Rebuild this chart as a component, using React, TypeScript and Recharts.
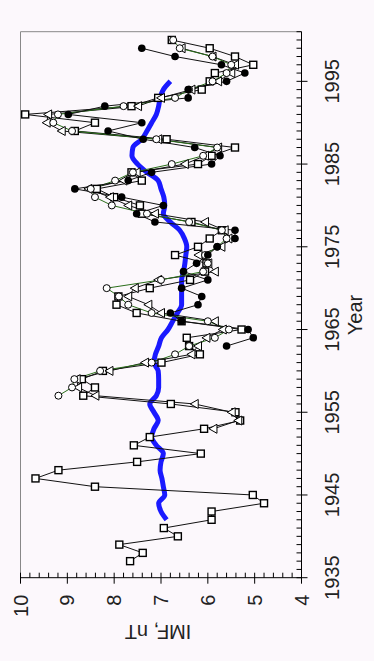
import { ComposedChart, Line, XAxis, YAxis, ReferenceLine } from "recharts";

const range = (a: number, b: number) =>
  Array.from({ length: b - a + 1 }, (_, i) => a + i);

// open squares, 1937-2000
const squareYears = range(1937, 2000);
const squareImf = [
  7.66, 7.39, 7.89, 6.64, 6.94, 5.92, 5.92, 4.8, 5.04, 8.41,
  9.68, 9.19, 7.51, 6.15, 7.58, 7.24, 6.08, 5.31, 5.41, 6.79,
  8.66, 8.41, 8.69, 8.24, 6.99, 6.17, 6.4, 6.45, 5.28, 6.56,
  7.52, 7.95, 7.91, 7.24, 6.38, 6.06, 6.03, 6.7, 6.21, 5.96,
  5.7, 6.35, 7.41, 7.45, 8.0, 8.37, 7.41, 7.63, 6.21, 5.92,
  5.42, 6.88, 8.84, 8.41, 9.9, 7.63, 7.06, 6.13, 5.96, 5.85,
  5.03, 5.42, 5.96, 6.77,
];

// open triangles, 1953-1999
const triangleYears = range(1953, 1999);
const triangleImf = [
  5.88, 5.35, 5.49, 6.28, 8.4, 8.77, 8.8, 8.1, 7.34, 6.35,
  6.21, 6.03, 5.68, 5.85, 7.0, 7.27, 7.7, 7.56, 7.06, 5.85,
  5.99, 6.2, 5.71, 5.56, 5.64, 6.06, 7.13, 7.7, 8.09, 8.55,
  7.8, 7.52, 6.49, 6.06, 5.78, 7.06, 9.12, 9.44, 9.41, 7.49,
  7.0, 6.35, 5.78, 5.5, 5.42, 5.9, 6.56,
];

// open circles, 1957-2000
const circleYears = range(1957, 2000);
const circleImf = [
  9.19, 8.9, 8.85, 8.3, 7.2, 6.7, 6.4, 5.85, 5.55, 6.0,
  7.2, 7.7, 7.9, 8.16, 7.0, 6.1, 6.0, 6.06, 5.8, 5.6,
  5.7, 6.4, 7.3, 8.05, 8.41, 8.5, 7.98, 7.6, 6.77, 6.1,
  5.8, 7.1, 8.9, 9.3, 9.2, 7.8, 6.7, 6.4, 5.9, 5.6,
  5.5, 5.9, 6.6, 6.74,
];

// filled circles, 1963-1999
const filledYears = range(1963, 1999);
const filledImf = [
  5.6, 5.03, 5.14, 6.56, 6.8, 6.21, 6.13, 6.56, 6.0, 6.52,
  6.24, 6.0, 5.8, 5.42, 5.42, 7.13, 7.52, 6.95, 7.84, 8.84,
  7.7, 7.2, 5.92, 5.74, 6.28, 7.38, 8.13, 7.41, 8.98, 8.2,
  6.42, 6.42, 5.6, 5.21, 5.71, 6.7, 7.41,
];

// smoothed trend, 1942-1995
const trendYears = range(1942, 1995);
const trendImf = [
  6.88, 7.0, 7.05, 6.92, 6.95, 6.98, 7.02, 7.0, 6.95, 7.1,
  7.2, 7.15, 7.06, 7.15, 7.24, 7.1, 7.05, 7.05, 7.06, 7.15,
  7.12, 7.05, 6.99, 6.85, 6.75, 6.65, 6.56, 6.56, 6.56, 6.56,
  6.52, 6.49, 6.47, 6.45, 6.5, 6.6, 6.8, 6.95, 6.92, 6.94,
  7.0, 7.06, 7.3, 7.5, 7.62, 7.6, 7.41, 7.3, 7.2, 7.1,
  7.05, 7.02, 6.95, 6.8,
];

const yearTicks = range(1935, 2001);
const imfTicks = range(20, 50).map((i) => i / 5);

const toPoints = (years: number[], vals: number[]) =>
  years.map((year, i) => ({ year, imf: vals[i] }));

const FONT = "'Liberation Sans', Arial, sans-serif";

const squareDot = (p: any) =>
  p.cx == null ? (
    <g key={`sq${p.index}`} />
  ) : (
    <rect key={`sq${p.index}`} x={p.cx - 3.5} y={p.cy - 3.5} width={7} height={7}
      fill="#fff" stroke="#000" strokeWidth={1.4} />
  );

const triangleDot = (p: any) =>
  p.cx == null ? (
    <g key={`tr${p.index}`} />
  ) : (
    <polygon key={`tr${p.index}`}
      points={`${p.cx},${p.cy - 4.5} ${p.cx - 4.5},${p.cy + 3.5} ${p.cx + 4.5},${p.cy + 3.5}`}
      fill="#fff" stroke="#000" strokeWidth={1} />
  );

const circleDot = (p: any) =>
  p.cx == null ? (
    <g key={`ci${p.index}`} />
  ) : (
    <circle key={`ci${p.index}`} cx={p.cx} cy={p.cy} r={3.5}
      fill="#fff" stroke="#000" strokeWidth={1} />
  );

const filledDot = (p: any) =>
  p.cx == null ? (
    <g key={`fi${p.index}`} />
  ) : (
    <circle key={`fi${p.index}`} cx={p.cx} cy={p.cy} r={3.8} fill="#000" />
  );

const YearTick = (props: any) => {
  const { x, y, payload } = props;
  const year = payload.value;
  const major = year % 10 === 5;
  return (
    <g>
      <line x1={x} x2={x} y1={y - 5} y2={major ? y + 6 : y} stroke="#000" />
      {major && (
        <text x={x} y={y + 37.5} textAnchor="middle" fontSize={20}
          fontFamily={FONT} fill="#222">
          {year}
        </text>
      )}
    </g>
  );
};

const ImfTick = (props: any) => {
  const { x, y, payload } = props;
  const v = payload.value;
  const major = Math.abs(v - Math.round(v)) < 1e-6;
  return (
    <g>
      <line x1={major ? x - 6 : x} x2={x + 5} y1={y} y2={y} stroke="#000" />
      {major && (
        <text x={x - 17} y={y + 7} textAnchor="end" fontSize={20}
          fontFamily={FONT} fill="#222">
          {Math.round(v)}
        </text>
      )}
    </g>
  );
};

export default function App() {
  return (
    <div style={{ position: "fixed", left: 0, top: 0, width: 374, height: 661,
      background: "#fcf8fc", overflow: "hidden" }}>
      <div style={{ position: "absolute", left: 0, top: 0, width: 661, height: 374,
        transformOrigin: "0 0", transform: "translateY(661px) rotate(-90deg)" }}>
        <ComposedChart width={661} height={374}
          margin={{ top: 20.5, right: 31.7, bottom: 0, left: 0 }}>
          <XAxis type="number" dataKey="year" domain={[1935, 2001]} ticks={yearTicks}
            interval={0} allowDataOverflow tickLine={false} tickSize={0} tickMargin={0}
            height={72.5} axisLine={{ stroke: "#000" }} tick={YearTick}
            label={{
              content: () => (
                <text x={346} y={362} textAnchor="middle" fontSize={20}
                  fontFamily={FONT} fill="#222">Year</text>
              ),
            }} />
          <YAxis type="number" domain={[4, 10]} ticks={imfTicks} interval={0}
            allowDataOverflow tickLine={false} tickSize={0} tickMargin={0}
            width={83.3} axisLine={{ stroke: "#000" }} tick={ImfTick}
            label={{
              content: () => (
                <text x={36} y={158} textAnchor="middle" fontSize={20}
                  fontFamily={FONT} fill="#222" transform="rotate(-90 36 158)">
                  IMF, nT
                </text>
              ),
            }} />
          <ReferenceLine y={10} stroke="#888" />
          <ReferenceLine x={2001} stroke="#888" />
          <Line data={toPoints(trendYears, trendImf)} dataKey="imf" type="monotone"
            stroke="#1a1aff" strokeWidth={5} dot={false} activeDot={false}
            isAnimationActive={false} />
          <Line data={toPoints(squareYears, squareImf)} dataKey="imf" type="linear"
            stroke="#111" strokeWidth={1} dot={squareDot} activeDot={false}
            isAnimationActive={false} />
          <Line data={toPoints(triangleYears, triangleImf)} dataKey="imf" type="linear"
            stroke="#111" strokeWidth={1} dot={triangleDot} activeDot={false}
            isAnimationActive={false} />
          <Line data={toPoints(circleYears, circleImf)} dataKey="imf" type="linear"
            stroke="#2a6e1a" strokeWidth={1} dot={circleDot} activeDot={false}
            isAnimationActive={false} />
          <Line data={toPoints(filledYears, filledImf)} dataKey="imf" type="linear"
            stroke="#111" strokeWidth={1} dot={filledDot} activeDot={false}
            isAnimationActive={false} />
        </ComposedChart>
      </div>
    </div>
  );
}
